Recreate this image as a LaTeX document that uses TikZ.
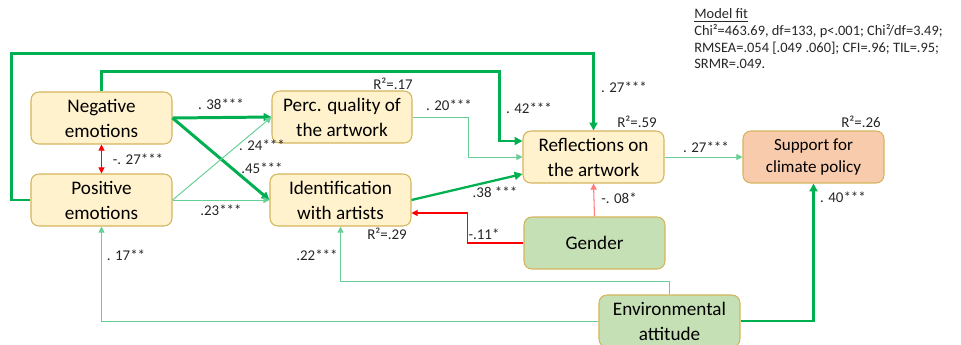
\documentclass[tikz,border=0pt]{standalone}
\usepackage{fontspec}
\setmainfont{Carlito}
\usepackage{tikz}
\usetikzlibrary{arrows.meta, positioning, calc}
\definecolor{pathgreen}{RGB}{0, 176, 80}
\definecolor{pathlgreen}{RGB}{102, 208, 150}
\definecolor{pathred}{RGB}{255, 0, 0}
\definecolor{pathpink}{RGB}{255, 125, 125}
\definecolor{boxyellow}{RGB}{255, 242, 204}
\definecolor{boxorange}{RGB}{248, 203, 173}
\definecolor{boxgreen}{RGB}{197, 224, 180}
\definecolor{boxedge}{RGB}{212, 180, 90}
\definecolor{lblgray}{RGB}{38, 38, 38}

\begin{document}
\begin{tikzpicture}[
  x=0.02cm, y=-0.02cm,
  box/.style={rectangle, draw=boxedge, fill=boxyellow, line width=0.6pt,
              rounded corners=4.5pt, minimum width=2.82cm, minimum height=1.04cm,
              inner sep=0pt, align=center, text=black,
              font=\fontsize{10.9}{14.2}\selectfont},
  ctrl/.style={box, fill=boxgreen},
  outc/.style={box, fill=boxorange, font=\fontsize{9.7}{12.9}\selectfont},
  thickarr/.style={-{Triangle[length=4.5pt,width=4.5pt]}, line width=1.7pt, color=pathgreen},
  medarr/.style={thickarr, line width=1.3pt},
  thinarr/.style={-{Triangle[length=3.5pt,width=3.5pt]}, line width=0.55pt, color=pathlgreen},
  redarr/.style={-{Triangle[length=3.5pt,width=3.5pt]}, line width=0.6pt, color=pathred},
  lbl/.style={font=\fontsize{8.5}{9.7}\selectfont, text=lblgray, inner sep=0pt}
]
  \useasboundingbox (0,0) rectangle (961,345);

  % constructs
  \node[box]  (neg)    at (101.5,118) {Negative\\emotions};
  \node[box]  (pos)    at (101.5,200) {Positive\\emotions};
  \node[box, minimum width=2.8cm] (perc) at (342,117) {Perc. quality of\\the artwork};
  \node[box]  (ident)  at (340.5,200) {Identification\\with artists};
  \node[box]  (refl)   at (593.5,157) {Reflections on\\the artwork};
  \node[outc] (supp)   at (813.5,157) {Support for\\climate policy};
  \node[ctrl] (gender) at (594.5,243) {Gender};
  \node[ctrl] (env)    at (669.5,321) {Environmental\\attitude};

  % paths
  \draw[thickarr] (neg.east) -- (perc.west);
  \draw[thickarr] (neg.east) -- (ident.west);
  \draw[thinarr]  (pos.east) -- (perc.west);
  \draw[thinarr]  (pos.east) -- (ident.west);
  \draw[redarr, {Triangle[length=3.5pt,width=3.5pt]}-{Triangle[length=3.5pt,width=3.5pt]}] (neg.south) -- (pos.north);
  \draw[thinarr]  (perc.east) -- ++(56,0) |- (refl.west);
  \draw[medarr]   (ident.east) -- ($(refl.west)+(0,17)$);
  \draw[thickarr] (neg.north) -- ++(0,-20) -| ($(refl.west)+(-23,-16)$) -- ($(refl.west)+(0,-16)$);
  \draw[medarr]   (pos.west) -- ++(-19,0) |- ($(refl.north)+(0,-77)$) -- (refl.north);
  \draw[thinarr]  (refl.east) -- (supp.west);
  \draw[redarr, color=pathpink] (gender.north) -- (refl.south);
  \draw[redarr]   (gender.west) -- ++(-56,0) |- ($(ident.east)+(0,13)$);
  \draw[thinarr]  (env.north) -- ++(0,-13) -| (ident.south);
  \draw[thinarr]  (env.west) -| (pos.south);
  \draw[thickarr] (env.east) -| (supp.south);

  % coefficients
  \node[lbl] (c1)  at (221,104) {. 38***};
  \node[lbl] (c2)  at (262,145) {. 24***};
  \node[lbl] (c3)  at (262,168) {.45***};
  \node[lbl] (c4)  at (221,210) {.23***};
  \node[lbl] (c5)  at (138,159) {-. 27***};
  \node[lbl] (c6)  at (449,105) {. 20***};
  \node[lbl] (c7)  at (529,108) {. 42***};
  \node[lbl] (c8)  at (624,87)  {. 27***};
  \node[lbl] (c9)  at (706,147) {. 27***};
  \node[lbl] (c10) at (495,192) {.38 ***};
  \node[lbl] (c11) at (619,198) {-. 08*};
  \node[lbl] (c12) at (484,234) {-.11*};
  \node[lbl] (c13) at (317,255) {.22***};
  \node[lbl] (c14) at (126,255) {. 17**};
  \node[lbl] (c15) at (843,197) {. 40***};

  % explained variance
  \node[lbl] (r1) at (393,84)  {R²=.17};
  \node[lbl] (r2) at (637,122) {R²=.59};
  \node[lbl] (r3) at (861,122) {R²=.26};
  \node[lbl] (r4) at (387,234) {R²=.29};

  % fit
  \node[lbl, anchor=north west, align=left, font=\fontsize{8.2}{9.6}\selectfont] (fit) at (694,8)
    {\underline{Model fit}\\
     Chi²=463.69, df=133, p<.001; Chi²/df=3.49;\\
     RMSEA=.054 [.049 .060]; CFI=.96; TIL=.95;\\
     SRMR=.049.};
\end{tikzpicture}
\end{document}
